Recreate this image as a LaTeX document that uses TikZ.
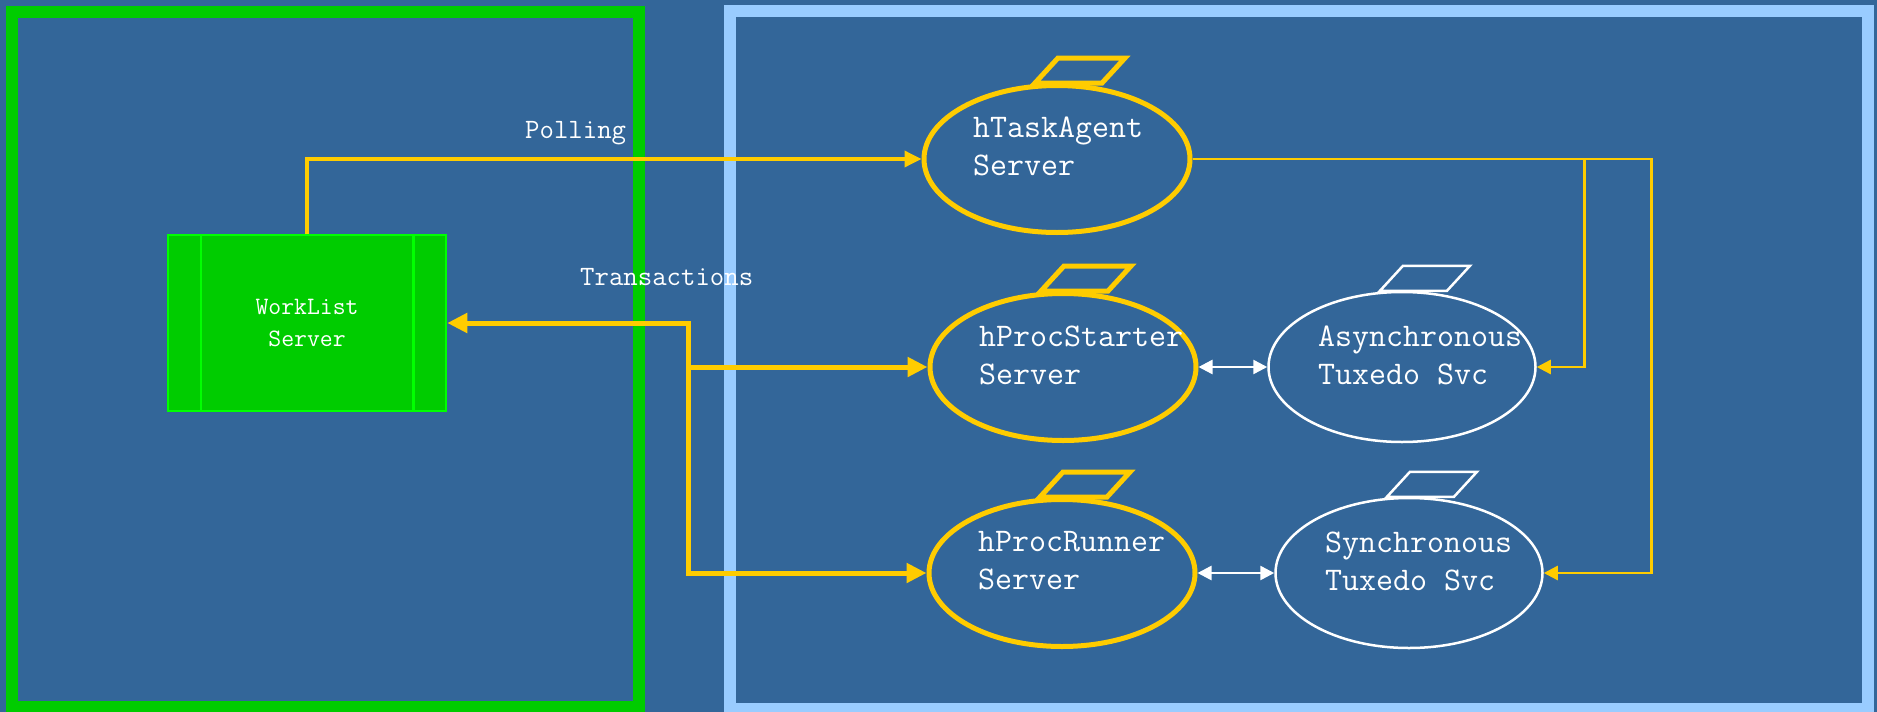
\documentclass[tikz,border=0pt]{standalone}
\usepackage{xcolor}
\usepackage{tikz}
\usetikzlibrary{shapes,arrows.meta,positioning,calc}

\definecolor{paneblue}{HTML}{336699}
\definecolor{wlgreen}{HTML}{00CC00}
\definecolor{wledge}{HTML}{00FF00}
\definecolor{tuxblue}{HTML}{99CCFF}
\definecolor{flowgold}{HTML}{FFCC00}

\begin{document}
\begin{tikzpicture}[x=1pt,y=-1pt,
  server/.style={ellipse,draw=flowgold,line width=5pt,minimum width=266pt,minimum height=147pt},
  service/.style={ellipse,draw=white,line width=2.5pt,minimum width=267pt,minimum height=150pt},
  wlbox/.style={rectangle,fill=wlgreen,draw=wledge,line width=2.5pt,minimum width=278pt,minimum height=176pt,
    text=white,align=center,font=\ttfamily\fontsize{25}{32}\selectfont},
  caption/.style={text=white,font=\ttfamily\fontsize{33}{38}\selectfont,align=left,anchor=west,inner sep=0pt},
  tag/.style={text=white,font=\ttfamily\fontsize{28}{34}\selectfont,inner sep=0pt,anchor=base west},
  poll/.style={flowgold,line width=3.5pt,-{Triangle[length=17pt,width=16pt]}},
  trans/.style={flowgold,line width=5pt},
  feed/.style={flowgold,line width=2.5pt,-{Triangle[length=14pt,width=14pt]}},
  link/.style={white,line width=2.5pt,{Triangle[length=14pt,width=14pt]}-{Triangle[length=14pt,width=14pt]}}]

  % panes
  \useasboundingbox (0,0) rectangle (1877,712);
  \fill[paneblue] (0,0) rectangle (1877,712);
  \draw[wlgreen,line width=12pt] (11.5,11.5) rectangle (639,707);
  \draw[tuxblue,line width=12pt] (730,11) rectangle (1867.5,709);

  % worklist server
  \node[wlbox] (wl) at (307,323) {WorkList\\Server};
  \draw[wledge,line width=2.5pt] ([xshift=34pt]wl.north west) -- ([xshift=34pt]wl.south west);
  \draw[wledge,line width=2.5pt] ([xshift=-34pt]wl.north east) -- ([xshift=-34pt]wl.south east);

  % servers and services
  \node[server] (ta) at (1057,159) {};
  \node[server] (ps) at (1063,367) {};
  \node[server] (pr) at (1062,573) {};
  \node[service] (as) at (1402,367) {};
  \node[service] (sy) at (1409,573) {};

  \foreach \n/\c/\w in {ta/flowgold/5pt,ps/flowgold/5pt,pr/flowgold/5pt,as/white/2.5pt,sy/white/2.5pt}
    \draw[\c,line width=\w] ($(\n.north)+(-22,0)$) -- ++(67,0) -- ++(23,-25) -- ++(-67,0) -- cycle;

  \node[caption] (ta-txt) at ($(ta.center)+(-84,-13)$) {hTaskAgent\\Server};
  \node[caption] (ps-txt) at ($(ps.center)+(-84,-12)$) {hProcStarter\\Server};
  \node[caption] (pr-txt) at ($(pr.center)+(-84,-12)$) {hProcRunner\\Server};
  \node[caption] (as-txt) at ($(as.center)+(-84,-12)$) {Asynchronous\\Tuxedo Svc};
  \node[caption] (sy-txt) at ($(sy.center)+(-84,-12)$) {Synchronous\\Tuxedo Svc};

  % flows
  \draw[poll] (wl.north) |- (ta.west);
  \node[tag] (poll-lbl) at (525,138) {Polling};

  \coordinate (tx) at (688,323);
  \draw[trans,{Triangle[length=20pt,width=19pt]}-{Triangle[length=20pt,width=19pt]}] (wl.east) -- (tx) |- (ps.west);
  \draw[trans,-{Triangle[length=20pt,width=19pt]}] (tx) |- (pr.west);
  \node[tag] (trans-lbl) at (580,285) {Transactions};

  \draw[feed] (ta.east) -- ++(392,0) |- (as.east);
  \draw[feed] (ta.east) -- ++(459,0) |- (sy.east);

  \draw[link] (ps.east) -- (as.west);
  \draw[link] (pr.east) -- (sy.west);
\end{tikzpicture}
\end{document}
